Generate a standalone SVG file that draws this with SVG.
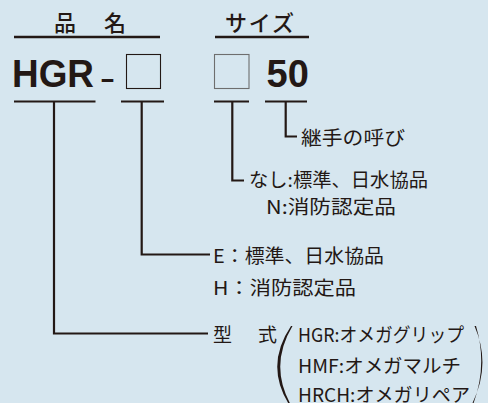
<svg xmlns="http://www.w3.org/2000/svg" width="488" height="403" viewBox="0 0 488 403">
<style>
.jp{font-family:"Noto Sans CJK JP","Noto Sans",sans-serif;fill:#231815;font-size:19px}
.hd{font-family:"Noto Sans CJK JP","Noto Sans",sans-serif;fill:#231815;font-size:22px;font-weight:500}
.big{font-family:"Liberation Sans",Arial,sans-serif;font-weight:bold;fill:#231815;font-size:38px}
.ln{fill:none;stroke:#231815;stroke-width:2.2}
.ul{fill:none;stroke:#231815;stroke-width:2.6}
</style>
<rect width="488" height="403" fill="#d6e6ef"/>
<g id="header-name">
<text class="hd" x="54" y="31" textLength="72">品　名</text>
<line class="ul" x1="14" y1="37" x2="160" y2="37"/>
</g>
<g id="header-size">
<text class="hd" x="225" y="31" textLength="69">サイズ</text>
<line class="ul" x1="215" y1="37" x2="309" y2="37"/>
</g>
<g id="code-hgr">
<text class="big" x="12" y="87" textLength="82" lengthAdjust="spacingAndGlyphs">HGR</text>
<text class="big" x="101" y="89.4" style="font-size:30px" textLength="13" lengthAdjust="spacingAndGlyphs">–</text>
</g>
<g id="box-type">
<rect x="126.5" y="54.5" width="34" height="34" fill="none" stroke="#231815" stroke-width="1.1"/>
</g>
<g id="box-standard">
<rect x="214.5" y="54.5" width="34.5" height="34" fill="none" stroke="#6e6e6e" stroke-width="1.1"/>
</g>
<g id="code-size">
<text class="big" x="266.5" y="87">50</text>
</g>
<g id="connectors">
<path class="ln" d="M14,101.5 H95.5 M54,101.5 V333.5 H208"/>
<path class="ln" d="M121,101.5 H164 M141.7,101.5 V254.5 H210"/>
<path class="ln" d="M214,101.5 H249 M232.3,101.5 V180.5 H244"/>
<path class="ln" d="M265,101.5 H307 M285.7,101.5 V136.5 H297"/>
</g>
<g id="label-size">
<text class="jp" x="301" y="145" textLength="104" lengthAdjust="spacingAndGlyphs">継手の呼び</text>
</g>
<g id="label-standard">
<text class="jp" x="249" y="187" textLength="179" lengthAdjust="spacingAndGlyphs">なし:標準、日水協品</text>
<text class="jp" x="266" y="214" textLength="130" lengthAdjust="spacingAndGlyphs">N:消防認定品</text>
</g>
<g id="label-type">
<text class="jp" x="213" y="263" textLength="171" lengthAdjust="spacingAndGlyphs">E：標準、日水協品</text>
<text class="jp" x="213" y="295" textLength="143" lengthAdjust="spacingAndGlyphs">H：消防認定品</text>
</g>
<g id="label-model">
<text class="jp" x="213" y="342" textLength="64">型　式</text>
<path d="M291,326 Q264,366 290,406 L291.5,406 Q268.5,366 292.5,326 Z" fill="#231815"/>
<text class="jp" x="298" y="342" textLength="166" lengthAdjust="spacingAndGlyphs">HGR:オメガグリップ</text>
<text class="jp" x="298" y="372.5" textLength="163" lengthAdjust="spacingAndGlyphs">HMF:オメガマルチ</text>
<text class="jp" x="298" y="402" textLength="172" lengthAdjust="spacingAndGlyphs">HRCH:オメガリペア</text>
<path d="M474.5,326 Q492,366 471,406 L472.5,406 Q488,366 476,326 Z" fill="#231815"/>
</g>
</svg>
